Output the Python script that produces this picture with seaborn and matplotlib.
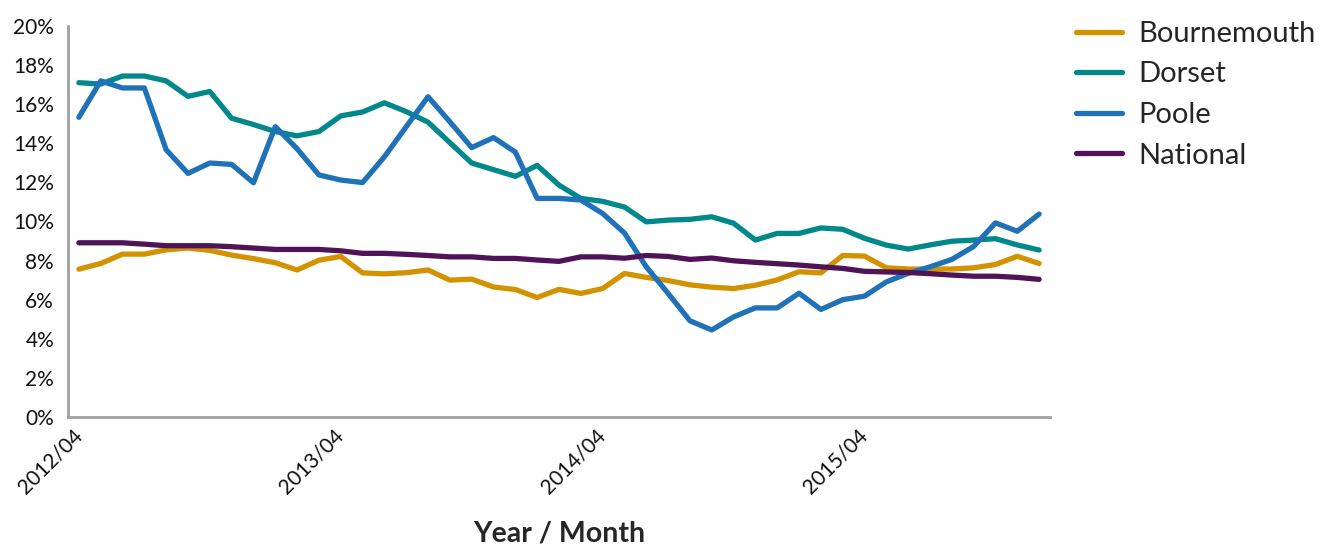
import matplotlib
matplotlib.use("Agg")
import matplotlib.pyplot as plt
from matplotlib.ticker import MultipleLocator, PercentFormatter
from matplotlib.transforms import ScaledTranslation
import seaborn as sns
import numpy as np
import pandas as pd

# -----------------------------
# 0. Data (percent, monthly 2012/04 - 2015/12)
# -----------------------------
months = [p.strftime("%Y/%m") for p in pd.period_range("2012-04", "2015-12", freq="M")]
tick_labels = ["2012/04", "2013/04", "2014/04", "2015/04"]

bournemouth = [7.56, 7.85, 8.33, 8.33, 8.55, 8.64, 8.52, 8.28, 8.10, 7.89, 7.52, 8.02,
               8.21, 7.37, 7.32, 7.38, 7.52, 7.00, 7.05, 6.65, 6.52, 6.11, 6.53, 6.32,
               6.57, 7.34, 7.14, 6.98, 6.76, 6.64, 6.57, 6.74, 7.01, 7.43, 7.37, 8.26,
               8.23, 7.63, 7.57, 7.56, 7.57, 7.63, 7.80, 8.22, 7.85]
dorset = [17.10, 17.03, 17.44, 17.44, 17.19, 16.40, 16.65, 15.28, 14.96, 14.60, 14.38, 14.60,
          15.40, 15.60, 16.07, 15.62, 15.08, 14.03, 12.99, 12.65, 12.31, 12.87, 11.86, 11.18,
          11.03, 10.74, 9.98, 10.07, 10.11, 10.24, 9.91, 9.05, 9.39, 9.39, 9.67, 9.60,
          9.14, 8.79, 8.59, 8.80, 8.99, 9.05, 9.12, 8.80, 8.54]
poole = [15.33, 17.19, 16.83, 16.83, 13.67, 12.46, 12.99, 12.92, 11.98, 14.85, 13.72, 12.38,
         12.12, 11.99, 13.31, 14.85, 16.38, 15.10, 13.78, 14.29, 13.55, 11.18, 11.18, 11.10,
         10.41, 9.41, 7.68, 6.32, 4.92, 4.45, 5.12, 5.58, 5.58, 6.33, 5.50, 6.00,
         6.18, 6.91, 7.35, 7.68, 8.06, 8.72, 9.93, 9.50, 10.38]
national = [8.91, 8.91, 8.91, 8.84, 8.76, 8.76, 8.76, 8.71, 8.64, 8.57, 8.57, 8.57,
            8.50, 8.37, 8.37, 8.32, 8.26, 8.19, 8.19, 8.11, 8.11, 8.03, 7.96, 8.19,
            8.19, 8.12, 8.26, 8.21, 8.06, 8.13, 7.99, 7.91, 7.84, 7.77, 7.68, 7.60,
            7.45, 7.42, 7.39, 7.33, 7.26, 7.20, 7.20, 7.14, 7.04]

series = {"Bournemouth": bournemouth, "Dorset": dorset, "Poole": poole, "National": national}
colors = {"Bournemouth": "#D39200", "Dorset": "#00888A", "Poole": "#1F72B8", "National": "#4F1457"}

df = pd.concat(
    [pd.DataFrame({"month": months, "idx": np.arange(len(months)), "value": v, "area": k})
     for k, v in series.items()],
    ignore_index=True,
)

# -----------------------------
# 1. Plot
# -----------------------------
sns.set_theme(style="white")
plt.rcParams["font.family"] = ["Lato", "DejaVu Sans"]

fig = plt.figure(figsize=(13.3, 5.47), dpi=100)
ax = fig.add_axes([0.0511, 0.2377, 0.7384, 0.7148])

sns.lineplot(data=df, x="idx", y="value", hue="area", palette=colors,
             linewidth=3.8, ax=ax, solid_capstyle="round", solid_joinstyle="round")

ax.set_xlim(-0.5, len(months) - 0.5)
ax.set_ylim(0, 20)
ax.yaxis.set_major_locator(MultipleLocator(2))
ax.yaxis.set_major_formatter(PercentFormatter(decimals=0))

ax.set_xticks(np.arange(-0.5, len(months)), minor=True)
ax.tick_params(axis="x", which="major", length=0, pad=6, labelsize=15)
ax.tick_params(axis="x", which="minor", length=3, width=1.5, color="#A0A0A0", direction="out")
ax.tick_params(axis="y", length=4, width=1.5, color="#A0A0A0", labelsize=15, pad=6)
ax.tick_params(axis="both", labelcolor="#111111")

tick_pos = [months.index(t) for t in tick_labels]
ax.set_xticks(tick_pos)
ax.set_xticklabels(tick_labels, rotation=45, ha="right", va="top", rotation_mode="anchor")
shift = ScaledTranslation(-5 / 72, 0, fig.dpi_scale_trans)
for lbl in ax.get_xticklabels():
    lbl.set_transform(lbl.get_transform() + shift)

for s in ["top", "right"]:
    ax.spines[s].set_visible(False)
for s in ["left", "bottom"]:
    ax.spines[s].set_color("#A0A0A0")
    ax.spines[s].set_linewidth(2)

ax.set_ylabel("")
ax.set_xlabel("Year / Month", fontsize=20.5, fontweight="bold")
ax.xaxis.set_label_coords(0.5, -0.297)
ax.xaxis.label.set_va("center")

handles, labels = ax.get_legend_handles_labels()
ax.get_legend().remove()
fig.legend(handles, labels, loc="upper left", bbox_to_anchor=(0.789, 1.01),
           frameon=False, fontsize=21, handlelength=1.6, handletextpad=0.55,
           labelspacing=0.5)

plt.savefig("out.png", dpi=100)
plt.close()
